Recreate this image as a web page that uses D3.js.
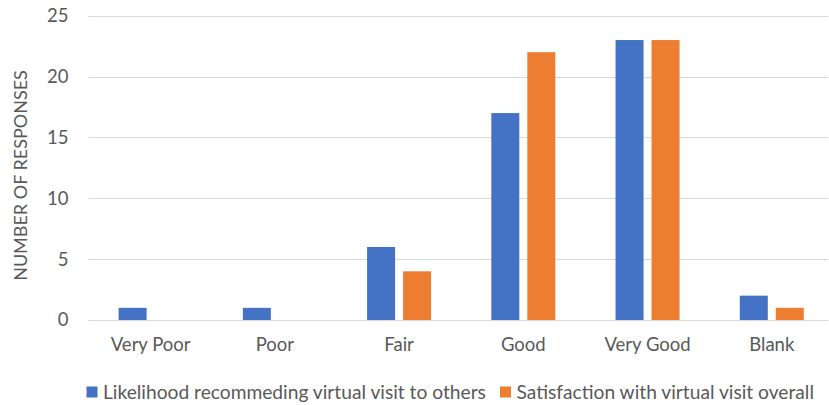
<!DOCTYPE html>
<html>
<head>
<meta charset="utf-8">
<script src="https://cdn.jsdelivr.net/npm/d3@7"></script>
<style>
  html, body { margin: 0; padding: 0; background: #fff; }
  svg { display: block; font-family: Lato, "Open Sans", sans-serif; }
</style>
</head>
<body>
<svg id="chart" width="829" height="405"></svg>
<script>
// Survey ratings and response counts per question
const categories = ["Very Poor", "Poor", "Fair", "Good", "Very Good", "Blank"];
const seriesNames = [
  "Likelihood recommeding virtual visit to others",
  "Satisfaction with virtual visit overall"
];
const recommendCounts = [1, 1, 6, 17, 23, 2];
const satisfactionCounts = [0, 0, 4, 22, 23, 1];
const yTicks = [0, 5, 10, 15, 20, 25];
const colors = ["#4472C4", "#ED7D31"];

const seriesValues = [recommendCounts, satisfactionCounts];
const rows = categories.map((c, i) => ({
  category: c,
  values: seriesNames.map((s, j) => ({ series: s, value: seriesValues[j][i] }))
}));

const svg = d3.select("#chart");
const plot = { left: 88.5, right: 833.9, top: 15.7, bottom: 320 };
const textColor = "#595959";
const fontSize = 18.5;

const x = d3.scaleBand().domain(categories).range([plot.left, plot.right]).padding(0);
const y = d3.scaleLinear().domain([0, 25]).range([plot.bottom, plot.top]);
const pairWidth = 64;
const x1 = d3.scaleBand().domain(seriesNames).range([0, pairWidth]).paddingInner(8 / 36).paddingOuter(0);
const color = d3.scaleOrdinal().domain(seriesNames).range(colors);

// Horizontal gridlines
svg.append("g")
  .selectAll("line")
  .data(yTicks)
  .join("line")
  .attr("x1", plot.left)
  .attr("x2", 828)
  .attr("y1", d => Math.round(y(d)) + 0.5)
  .attr("y2", d => Math.round(y(d)) + 0.5)
  .attr("stroke", "#D9D9D9")
  .attr("stroke-width", 1.2);

// Y axis tick labels
const yAxis = svg.append("g")
  .attr("transform", `translate(${plot.left},0)`)
  .call(d3.axisLeft(y).tickValues(yTicks).tickSize(0).tickPadding(20));
yAxis.select(".domain").remove();
yAxis.selectAll("text")
  .attr("fill", textColor)
  .attr("font-size", fontSize)
  .attr("font-family", "Lato, sans-serif");

// Bars
const groups = svg.append("g")
  .selectAll("g")
  .data(rows)
  .join("g")
  .attr("transform", d => `translate(${x(d.category) + x.bandwidth() / 2 - pairWidth / 2},0)`);

groups.selectAll("rect")
  .data(d => d.values)
  .join("rect")
  .attr("x", d => x1(d.series))
  .attr("width", x1.bandwidth())
  .attr("y", d => y(d.value))
  .attr("height", d => y(0) - y(d.value))
  .attr("fill", d => color(d.series));

// X axis category labels
const xAxis = svg.append("g")
  .attr("transform", `translate(0,${plot.bottom})`)
  .call(d3.axisBottom(x).tickSize(0).tickPadding(18));
xAxis.select(".domain").remove();
xAxis.selectAll("text")
  .attr("fill", textColor)
  .attr("font-size", fontSize)
  .attr("font-family", "Lato, sans-serif");

// Y axis title
svg.append("text")
  .attr("transform", "translate(21,175.5) rotate(-90)")
  .attr("text-anchor", "middle")
  .attr("dy", "0.35em")
  .attr("fill", textColor)
  .attr("font-size", 18)
  .text("NUMBER OF RESPONSES");

// Legend
const legend = svg.append("g").attr("transform", "translate(0,392)");
const legendX = [86.5, 500];
seriesNames.forEach((s, i) => {
  const g = legend.append("g").attr("transform", `translate(${legendX[i]},0)`);
  g.append("rect").attr("x", 0).attr("y", -5.5).attr("width", 11).attr("height", 11).attr("fill", colors[i]);
  g.append("text").attr("x", 16.5).attr("y", 0).attr("dy", "0.35em")
    .attr("fill", textColor).attr("font-size", 19.2).text(s);
});
</script>
</body>
</html>
